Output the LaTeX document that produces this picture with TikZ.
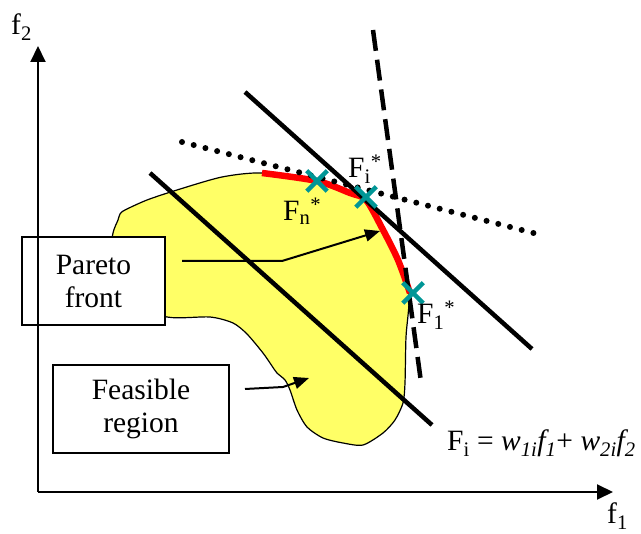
\documentclass[tikz,border=0pt]{standalone}
\usepackage{fontspec}
\setmainfont{Liberation Serif}
\usetikzlibrary{arrows.meta,shapes.misc}
\definecolor{regionyellow}{RGB}{255,255,102}
\definecolor{markteal}{RGB}{0,150,150}
\begin{document}
\begin{tikzpicture}[x=1pt,y=-1pt,
  lbl/.style={inner sep=0pt,anchor=base west,font=\fontsize{29.5}{34}\selectfont},
  labelbox/.style={draw,line width=1.5pt,fill=white,align=center,inner sep=0pt,font=\fontsize{29.5}{33}\selectfont},
  axisline/.style={line width=2pt,-{Triangle[length=16pt,width=15pt]}},
  pointer/.style={line width=2pt,-{Triangle[length=15pt,width=12pt]}},
  thickline/.style={line width=4.5pt},
  markx/.style={cross out,draw=markteal,line width=4.5pt,minimum size=16pt,inner sep=0pt}]
\useasboundingbox (0,0) rectangle (641,534);
% feasible region
\draw[fill=regionyellow,line width=1.2pt] plot[smooth cycle,tension=0.45] coordinates {
 (120,214) (125,210) (147,200) (177,190) (222,177) (262,173) (317,181) (350,193) (366,200)
 (382,228) (398,260) (409,294) (406,337) (405,383) (403,403) (395,420) (383,433) (363,445)
 (343,443) (323,438) (307,427) (297,410) (290,390) (285,380) (277,373) (272,366) (263,353)
 (247,334) (233,323) (210,317) (167,317) (120,300) (110,260) (113,233) (118,220)};
% boxes
\node[labelbox,minimum width=143pt,minimum height=88pt] (pareto) at (93.5,281) {Pareto\\front};
\node[labelbox,minimum width=176pt,minimum height=88pt] (feasible) at (141,409) {Feasible\\region};
% axes
\coordinate (origin) at (38,492);
\coordinate (ytip) at (38,46);
\coordinate (xtip) at (613,492);
\draw[axisline] (origin) -- (ytip);
\draw[axisline] (origin) -- (xtip);
% lines
\coordinate (l1a) at (150,173); \coordinate (l1b) at (432,425);
\draw[thickline] (l1a) -- (l1b);
% pareto front
\draw[red,line width=6.5pt] plot[smooth,tension=0.5] coordinates {(262,173) (317,181) (350,193) (366,200) (382,228) (398,260) (410,293)};
\coordinate (dota) at (182,142); \coordinate (dotb) at (545,236);
\draw[line width=6pt,line cap=round,dash pattern=on 0pt off 12.1pt] (dota) -- (dotb);
\coordinate (dasha) at (373,30); \coordinate (dashb) at (421,382);
\draw[line width=4.5pt,dash pattern=on 21pt off 9pt] (dasha) -- (dashb);
\coordinate (l2a) at (245,92); \coordinate (l2b) at (532,349);
\draw[thickline] (l2a) -- (l2b);
% marks
\node[markx] (Fn) at (317,181) {};
\node[markx] (Fi) at (366,197) {};
\node[markx] (F1) at (413,293) {};
% pointers
\coordinate (pa) at (182,261); \coordinate (pb) at (282,261); \coordinate (pc) at (380,231);
\draw[pointer] (pa) -- (pb) -- (pc);
\coordinate (fa) at (245,389); \coordinate (fb) at (283,387); \coordinate (fc) at (309,378);
\draw[pointer] (fa) -- (fb) -- (fc);
% labels
\node[lbl] (f2lab) at (11,35) {f\textsubscript{2}};
\node[lbl] (f1lab) at (607,524) {f\textsubscript{1}};
\node[lbl] (Fnlab) at (283,221) {F\textsubscript{n}\textsuperscript{*}};
\node[lbl] (Filab) at (348,178) {F\textsubscript{i}\textsuperscript{*}};
\node[lbl] (F1lab) at (417,324) {F\textsubscript{1}\textsuperscript{*}};
\node[lbl] (eq) at (447,451) {F\textsubscript{i} = \textit{w\textsubscript{1i}f\textsubscript{1}}+ \textit{w\textsubscript{2i}f\textsubscript{2}}};
\end{tikzpicture}
\end{document}
